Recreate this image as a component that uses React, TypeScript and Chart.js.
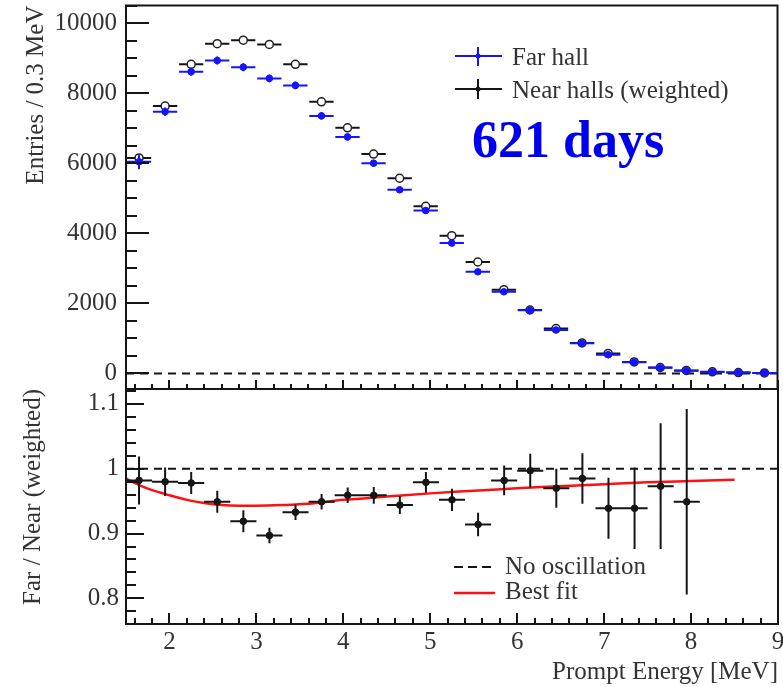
import React, { useEffect, useRef } from 'react';
import { Chart, registerables } from 'chart.js';

Chart.register(...registerables);

// ---------------- data ----------------
const BIN_CENTERS = [1.65, 1.95, 2.25, 2.55, 2.85, 3.15, 3.45, 3.75, 4.05, 4.35, 4.65, 4.95, 5.25, 5.55, 5.85, 6.15, 6.45, 6.75, 7.05, 7.35, 7.65, 7.95, 8.25, 8.55, 8.85];
const FAR_HALL = [6040, 7470, 8610, 8930, 8740, 8420, 8220, 7350, 6750, 6000, 5240, 4650, 3720, 2900, 2330, 1800, 1240, 860, 535, 320, 160, 80, 40, 25, 15];
const FAR_HALL_ERR = [210, 120, 115, 115, 115, 110, 110, 105, 100, 95, 90, 85, 75, 65, 60, 50, 42, 35, 28, 22, 16, 11, 8, 6, 5];
const NEAR_HALLS = [6150, 7630, 8820, 9410, 9510, 9390, 8820, 7750, 7010, 6260, 5570, 4770, 3930, 3180, 2390, 1810, 1280, 870, 570, 330, 170, 85, 45, 25, 15];
const NEAR_HALLS_ERR = [60, 55, 55, 55, 55, 55, 55, 50, 50, 45, 45, 40, 35, 30, 30, 25, 20, 18, 15, 12, 9, 6, 4, 3, 3];

const RATIO_CENTERS = [1.65, 1.95, 2.25, 2.55, 2.85, 3.15, 3.45, 3.75, 4.05, 4.35, 4.65, 4.95, 5.25, 5.55, 5.85, 6.15, 6.45, 6.75, 7.05, 7.35, 7.65, 7.95];
const RATIO = [0.982, 0.980, 0.978, 0.949, 0.919, 0.897, 0.933, 0.949, 0.959, 0.959, 0.944, 0.979, 0.952, 0.914, 0.982, 0.997, 0.970, 0.985, 0.939, 0.939, 0.973, 0.949];
const RATIO_ERR = [0.037, 0.022, 0.017, 0.017, 0.017, 0.012, 0.012, 0.012, 0.012, 0.013, 0.014, 0.016, 0.017, 0.018, 0.023, 0.026, 0.030, 0.039, 0.047, 0.063, 0.097, 0.143];

const FIT_E = [1.5, 1.6, 1.7, 1.8, 1.9, 2.0, 2.2, 2.4, 2.6, 2.8, 3.0, 3.3, 3.6, 4.0, 4.5, 5.0, 5.5, 6.0, 6.5, 7.0, 7.5, 8.0, 8.5];
const FIT_RATIO = [0.985, 0.978, 0.972, 0.967, 0.963, 0.959, 0.952, 0.947, 0.944, 0.943, 0.943, 0.944, 0.946, 0.952, 0.957, 0.962, 0.966, 0.970, 0.973, 0.976, 0.979, 0.981, 0.983];

const X_TICKS = [2, 3, 4, 5, 6, 7, 8, 9];
const TOP_Y_TICKS = [0, 2000, 4000, 6000, 8000, 10000];
const RATIO_Y_TICKS = [0.8, 0.9, 1, 1.1];

const X_MIN = 1.5;
const X_MAX = 9;
const TOP_Y_MIN = -444;
const TOP_Y_MAX = 10500;
const RATIO_Y_MIN = 0.7605;
const RATIO_Y_MAX = 1.123;

// ---------------- styles ----------------
const FONT = "'Liberation Serif', 'DejaVu Serif', serif";
const TEXT_COLOR = '#333333';
const BLUE = '#1414ff';
const INK = '#151515';

// ---------------- plugins ----------------
const errorBarPlugin = {
  id: 'errorBars',
  beforeDatasetDraw(chart: any, args: any) {
    const ds: any = chart.data.datasets[args.index];
    if (!ds.errY) return;
    const xs = chart.scales.x;
    const ys = chart.scales.y;
    const ctx = chart.ctx;
    const a = chart.chartArea;
    ctx.save();
    ctx.beginPath();
    ctx.rect(a.left, a.top, a.right - a.left, a.bottom - a.top);
    ctx.clip();
    ctx.strokeStyle = ds.errColor;
    ctx.lineWidth = ds.errWidth;
    ctx.beginPath();
    ds.data.forEach((p: any, i: number) => {
      const px = xs.getPixelForValue(p.x);
      const py = ys.getPixelForValue(p.y);
      const x0 = xs.getPixelForValue(p.x - ds.errX);
      const x1 = xs.getPixelForValue(p.x + ds.errX);
      const ya = ys.getPixelForValue(p.y - ds.errY[i]);
      const yb = ys.getPixelForValue(p.y + ds.errY[i]);
      ctx.moveTo(x0, py);
      ctx.lineTo(x1, py);
      ctx.moveTo(px, ya);
      ctx.lineTo(px, yb);
    });
    ctx.stroke();
    ctx.restore();
  },
};

function makeFramePlugin(cfg: any) {
  return {
    id: 'rootFrame',
    afterDraw(chart: any) {
      const { ctx, chartArea: a } = chart;
      const xs = chart.scales.x;
      const ys = chart.scales.y;
      ctx.save();
      ctx.strokeStyle = INK;
      ctx.lineWidth = 2;
      ctx.beginPath();
      // x ticks (bottom edge, pointing up)
      const xStart = Math.ceil((xs.min - 1e-9) / cfg.xMinorStep) * cfg.xMinorStep;
      for (let v = xStart; v <= xs.max + 1e-9; v += cfg.xMinorStep) {
        const px = Math.round(xs.getPixelForValue(v));
        const major = X_TICKS.some((t) => Math.abs(t - v) < 1e-6);
        const len = major ? cfg.xMajorLen : cfg.xMinorLen;
        ctx.moveTo(px, a.bottom);
        ctx.lineTo(px, a.bottom - len);
      }
      // y ticks (left edge, pointing right)
      const yStart = Math.ceil((ys.min - 1e-9) / cfg.yMinorStep) * cfg.yMinorStep;
      for (let v = yStart; v <= ys.max + 1e-9; v += cfg.yMinorStep) {
        const py = Math.round(ys.getPixelForValue(v));
        const major = cfg.yTicks.some((t: number) => Math.abs(t - v) < cfg.yMinorStep * 1e-3);
        const len = major ? cfg.yMajorLen : cfg.yMinorLen;
        ctx.moveTo(a.left, py);
        ctx.lineTo(a.left + len, py);
      }
      ctx.stroke();
      // frame
      ctx.lineWidth = 2;
      ctx.strokeRect(a.left, a.top, a.right - a.left, a.bottom - a.top);
      ctx.restore();
    },
  };
}

function makeTopTextPlugin() {
  return {
    id: 'topText',
    afterDraw(chart: any) {
      const ctx = chart.ctx;
      ctx.save();
      ctx.lineWidth = 2;
      // Far hall legend entry
      ctx.strokeStyle = BLUE;
      ctx.beginPath();
      ctx.moveTo(455, 56); ctx.lineTo(502, 56);
      ctx.moveTo(478, 47); ctx.lineTo(478, 66);
      ctx.stroke();
      ctx.fillStyle = BLUE;
      ctx.beginPath(); ctx.arc(478, 56, 2.5, 0, Math.PI * 2); ctx.fill();
      // Near halls legend entry
      ctx.strokeStyle = INK;
      ctx.beginPath();
      ctx.moveTo(455, 89); ctx.lineTo(502, 89);
      ctx.moveTo(478, 79); ctx.lineTo(478, 99);
      ctx.stroke();
      ctx.fillStyle = INK;
      ctx.beginPath(); ctx.arc(478, 89, 2.5, 0, Math.PI * 2); ctx.fill();

      ctx.fillStyle = TEXT_COLOR;
      ctx.font = `25px ${FONT}`;
      ctx.textBaseline = 'alphabetic';
      ctx.textAlign = 'left';
      ctx.fillText('Far hall', 512, 65);
      ctx.fillText('Near halls (weighted)', 512, 97.5);

      ctx.fillStyle = '#0000f0';
      ctx.font = `bold 52px ${FONT}`;
      ctx.fillText('621 days', 472, 157);
      ctx.restore();
    },
  };
}

function makeBottomTextPlugin(offsetY: number) {
  return {
    id: 'bottomText',
    afterDraw(chart: any) {
      const ctx = chart.ctx;
      ctx.save();
      ctx.strokeStyle = INK;
      ctx.lineWidth = 2;
      ctx.setLineDash([9, 5]);
      ctx.beginPath();
      ctx.moveTo(454, 567 - offsetY); ctx.lineTo(493, 567 - offsetY);
      ctx.stroke();
      ctx.setLineDash([]);
      ctx.strokeStyle = '#ff1010';
      ctx.lineWidth = 2.5;
      ctx.beginPath();
      ctx.moveTo(454, 593 - offsetY); ctx.lineTo(495, 593 - offsetY);
      ctx.stroke();
      ctx.fillStyle = TEXT_COLOR;
      ctx.font = `25px ${FONT}`;
      ctx.textBaseline = 'alphabetic';
      ctx.textAlign = 'left';
      ctx.fillText('No oscillation', 505, 573.5 - offsetY);
      ctx.fillText('Best fit', 505, 599 - offsetY);
      ctx.restore();
    },
  };
}

// ---------------- component ----------------
const TOP_H = 395;
const BOTTOM_TOP = 383;
const BOTTOM_H = 687 - BOTTOM_TOP;

export default function App() {
  const topRef = useRef<HTMLCanvasElement | null>(null);
  const botRef = useRef<HTMLCanvasElement | null>(null);

  useEffect(() => {
    const tickFont = { family: FONT, size: 25 };

    const topChart = new Chart(topRef.current as HTMLCanvasElement, {
      type: 'scatter',
      data: {
        datasets: [
          {
            label: 'Far hall',
            data: BIN_CENTERS.map((x, i) => ({ x, y: FAR_HALL[i] })),
            pointRadius: 3.3,
            pointBackgroundColor: BLUE,
            pointBorderColor: BLUE,
            pointBorderWidth: 1,
            errY: FAR_HALL_ERR,
            errX: 0.14,
            errColor: BLUE,
            errWidth: 2,
          } as any,
          {
            label: 'Near halls (weighted)',
            data: BIN_CENTERS.map((x, i) => ({ x, y: NEAR_HALLS[i] })),
            pointRadius: 4,
            pointBackgroundColor: '#ffffff',
            pointBorderColor: '#222222',
            pointBorderWidth: 1.5,
            errY: NEAR_HALLS_ERR,
            errX: 0.14,
            errColor: INK,
            errWidth: 2,
          } as any,
          {
            label: 'zero',
            data: [{ x: X_MIN, y: 0 }, { x: X_MAX, y: 0 }],
            showLine: true,
            borderColor: INK,
            borderWidth: 2,
            borderDash: [8, 6],
            pointRadius: 0,
          } as any,
        ],
      },
      options: {
        responsive: false,
        animation: false,
        events: [],
        layout: { padding: { top: 4, bottom: TOP_H - 389, left: 0, right: 3 } },
        plugins: { legend: { display: false }, tooltip: { enabled: false } },
        scales: {
          x: { type: 'linear', min: X_MIN, max: X_MAX, display: false },
          y: {
            type: 'linear',
            min: TOP_Y_MIN,
            max: TOP_Y_MAX,
            afterBuildTicks: (s: any) => { s.ticks = TOP_Y_TICKS.map((v) => ({ value: v })); },
            afterFit: (s: any) => { s.width = 126; s.paddingTop = 0; s.paddingBottom = 0; },
            grid: { display: false, drawTicks: false },
            border: { display: false },
            ticks: { padding: 9, color: TEXT_COLOR, font: tickFont, callback: (v: any) => String(v) },
            title: {
              display: true,
              text: 'Entries / 0.3 MeV',
              align: 'end',
              color: TEXT_COLOR,
              font: tickFont,
              padding: { top: 21, bottom: 0 },
            },
          },
        },
      } as any,
      plugins: [
        errorBarPlugin,
        makeFramePlugin({ xMinorStep: 0.2, xMajorLen: 9, xMinorLen: 5, yMinorStep: 500, yTicks: TOP_Y_TICKS, yMajorLen: 23, yMinorLen: 11 }),
        makeTopTextPlugin(),
      ] as any,
    });

    const botChart = new Chart(botRef.current as HTMLCanvasElement, {
      type: 'scatter',
      data: {
        datasets: [
          {
            label: 'Far / Near',
            data: RATIO_CENTERS.map((x, i) => ({ x, y: RATIO[i] })),
            pointRadius: 3.3,
            pointBackgroundColor: INK,
            pointBorderColor: INK,
            pointBorderWidth: 1,
            errY: RATIO_ERR,
            errX: 0.15,
            errColor: INK,
            errWidth: 2,
          } as any,
          {
            label: 'Best fit',
            data: FIT_E.map((x, i) => ({ x, y: FIT_RATIO[i] })),
            showLine: true,
            borderColor: '#ff1010',
            borderWidth: 2.5,
            pointRadius: 0,
            cubicInterpolationMode: 'monotone',
          } as any,
          {
            label: 'No oscillation',
            data: [{ x: X_MIN, y: 1 }, { x: X_MAX, y: 1 }],
            showLine: true,
            borderColor: INK,
            borderWidth: 2,
            borderDash: [8, 6],
            pointRadius: 0,
          } as any,
        ],
      },
      options: {
        responsive: false,
        animation: false,
        events: [],
        layout: { padding: { top: 389 - BOTTOM_TOP, bottom: 0, left: 0, right: 3 } },
        plugins: { legend: { display: false }, tooltip: { enabled: false } },
        scales: {
          x: {
            type: 'linear',
            min: X_MIN,
            max: X_MAX,
            afterBuildTicks: (s: any) => { s.ticks = X_TICKS.map((v) => ({ value: v })); },
            afterFit: (s: any) => { s.height = 687 - 624; s.paddingLeft = 0; s.paddingRight = 0; },
            grid: { display: false, drawTicks: false },
            border: { display: false },
            ticks: { padding: 3, maxRotation: 0, autoSkip: false, color: TEXT_COLOR, font: tickFont, callback: (v: any) => String(v) },
            title: {
              display: true,
              text: 'Prompt Energy [MeV]',
              align: 'end',
              color: TEXT_COLOR,
              font: tickFont,
              padding: { top: 0, bottom: 0 },
            },
          },
          y: {
            type: 'linear',
            min: RATIO_Y_MIN,
            max: RATIO_Y_MAX,
            afterBuildTicks: (s: any) => { s.ticks = RATIO_Y_TICKS.map((v) => ({ value: v })); },
            afterFit: (s: any) => { s.width = 126; s.paddingTop = 0; s.paddingBottom = 0; },
            grid: { display: false, drawTicks: false },
            border: { display: false },
            ticks: { padding: 7, color: TEXT_COLOR, font: tickFont, callback: (v: any) => String(v) },
            title: {
              display: true,
              text: 'Far / Near (weighted)',
              align: 'end',
              color: TEXT_COLOR,
              font: tickFont,
              padding: { top: 18, bottom: 0 },
            },
          },
        },
      } as any,
      plugins: [
        errorBarPlugin,
        makeFramePlugin({ xMinorStep: 0.2, xMajorLen: 11, xMinorLen: 6, yMinorStep: 0.02, yTicks: RATIO_Y_TICKS, yMajorLen: 18, yMinorLen: 10 }),
        makeBottomTextPlugin(BOTTOM_TOP),
      ] as any,
    });

    return () => {
      topChart.destroy();
      botChart.destroy();
    };
  }, []);

  return (
    <div style={{ position: 'fixed', left: 0, top: 0, width: 783, height: 687, background: '#ffffff', overflow: 'hidden' }}>
      <canvas ref={topRef} width={783} height={TOP_H} style={{ position: 'absolute', left: 0, top: 0, width: 783, height: TOP_H }} />
      <canvas ref={botRef} width={783} height={BOTTOM_H} style={{ position: 'absolute', left: 0, top: BOTTOM_TOP, width: 783, height: BOTTOM_H }} />
    </div>
  );
}
